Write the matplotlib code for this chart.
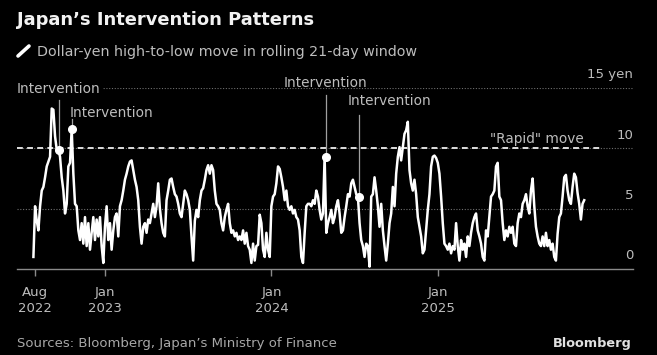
import matplotlib
matplotlib.use("Agg")
import matplotlib.pyplot as plt
from matplotlib.lines import Line2D
import pandas as pd

plt.rcParams['font.family'] = ['DejaVu Sans']
plt.rcParams['font.size'] = 10

# Dollar-yen high-to-low move in a rolling 21-day window (yen)
start_date = "2022-07-28"
end_date = "2025-11-17"
move_yen = [
    1.0, 5.2, 4.0, 3.2, 5.2, 6.5, 6.8, 7.6, 8.5, 8.9,
    9.3, 13.3, 13.2, 11.0, 9.9, 9.9, 9.3, 7.6, 6.5, 4.6,
    5.4, 8.5, 8.8, 11.6, 7.9, 5.4, 5.2, 3.2, 2.4, 3.8,
    2.1, 4.3, 1.9, 3.8, 1.6, 3.0, 4.3, 2.4, 4.1, 2.7,
    4.3, 1.9, 0.5, 3.5, 5.2, 2.4, 3.8, 1.6, 3.2, 4.3,
    4.6, 2.7, 5.2, 5.7, 6.5, 7.4, 7.9, 8.5, 8.9, 9.0,
    8.2, 7.4, 6.8, 5.7, 3.5, 2.1, 3.5, 3.8, 3.0, 4.1,
    3.8, 4.6, 5.4, 4.3, 5.2, 7.1, 5.0, 3.8, 3.0, 2.7,
    5.7, 6.5, 7.4, 7.5, 6.8, 6.2, 6.0, 5.4, 4.6, 4.3,
    5.4, 6.5, 6.2, 5.7, 4.9, 2.7, 0.7, 4.0, 4.9, 4.3,
    5.7, 6.5, 6.7, 7.4, 8.2, 8.6, 7.9, 8.6, 8.2, 6.5,
    5.4, 5.2, 4.9, 3.8, 3.2, 4.3, 4.9, 5.4, 3.8, 3.0,
    3.2, 2.7, 3.0, 2.4, 2.7, 2.4, 3.2, 2.1, 3.0, 1.9,
    1.6, 0.5, 2.1, 0.7, 1.9, 2.0, 4.5, 3.8, 1.6, 1.0,
    3.0, 1.6, 1.0, 5.2, 6.0, 6.2, 7.1, 8.5, 8.3, 7.6,
    6.8, 5.7, 6.5, 5.2, 4.9, 5.2, 4.6, 4.9, 4.3, 4.1,
    3.2, 1.0, 0.5, 3.0, 5.2, 5.4, 5.4, 5.2, 5.7, 5.4,
    6.5, 6.0, 4.9, 4.1, 4.6, 9.3, 3.0, 3.8, 4.3, 4.9,
    3.8, 4.3, 5.2, 5.7, 4.6, 3.0, 3.2, 4.3, 5.2, 6.2,
    6.0, 7.1, 7.4, 6.8, 6.2, 6.0, 3.8, 2.4, 1.9, 1.0,
    2.1, 1.9, 0.2, 6.0, 6.2, 7.6, 6.5, 5.2, 3.5, 5.4,
    3.2, 1.9, 0.7, 2.1, 3.8, 4.6, 6.8, 5.2, 7.9, 9.3,
    10.1, 9.0, 10.1, 11.2, 11.5, 12.2, 8.2, 7.1, 6.5, 7.4,
    6.2, 4.3, 3.5, 2.7, 1.3, 1.6, 3.2, 4.9, 6.2, 8.5,
    9.3, 9.4, 9.2, 8.8, 7.9, 6.0, 3.8, 2.1, 1.9, 1.6,
    2.1, 1.3, 1.9, 1.6, 3.8, 1.9, 0.7, 2.4, 1.6, 2.1,
    1.0, 2.7, 1.9, 3.0, 3.8, 4.3, 4.6, 3.2, 2.7, 2.1,
    1.0, 0.7, 3.2, 2.7, 4.3, 6.0, 6.2, 6.5, 8.5, 8.8,
    6.0, 5.7, 3.8, 2.4, 3.2, 2.7, 3.5, 3.0, 3.5, 2.1,
    1.9, 3.8, 4.6, 4.3, 5.4, 5.7, 6.2, 5.2, 4.6, 6.5,
    7.5, 5.2, 3.5, 2.7, 2.1, 1.9, 2.7, 1.9, 3.0, 1.9,
    2.4, 1.6, 2.1, 1.0, 0.7, 2.9, 4.3, 4.6, 6.0, 7.6,
    7.8, 6.5, 5.7, 5.4, 6.8, 7.9, 7.6, 6.3, 5.4, 4.1,
    5.4, 5.7,
]

# Japan's interventions and the move on those days
intervention_dates = ["2022-09-22", "2022-10-21", "2024-04-29", "2024-07-11"]
intervention_values = [9.9, 11.6, 9.3, 6.0]

rapid_move = 10
y_ticks = [0, 5, 10, 15]
y_tick_labels = ["0", "5", "10", "15 yen"]
x_ticks = ["2022-08-01", "2023-01-01", "2024-01-01", "2025-01-01"]
x_tick_labels = ["Aug\n2022", "Jan\n2023", "Jan\n2024", "Jan\n2025"]

BG = 'black'
GREY = '#bdbdbd'
GRID = '#6e6e6e'

dates = pd.date_range(start_date, end_date, periods=len(move_yen))
iv_dates = pd.to_datetime(intervention_dates)

fig = plt.figure(figsize=(6.57, 3.55), dpi=100, facecolor=BG)
ax = fig.add_axes([17 / 657, 1 - 269 / 355, 616 / 657, 181 / 355])
ax.set_facecolor(BG)

x_left = pd.Timestamp("2022-06-22")
x_right = pd.Timestamp("2026-03-04")
ax.set_xlim(x_left, x_right)
ax.set_ylim(0, 15)

# dotted gridlines and right-hand labels
for v, lab in zip(y_ticks, y_tick_labels):
    if v > 0:
        ax.axhline(v, color=GRID, linestyle=(0, (1, 1.5)), linewidth=0.8, zorder=1)
    ax.text(1.0, v + 0.55, lab, transform=ax.get_yaxis_transform(),
            ha='right', va='bottom', color=GREY, fontsize=9.5)

# "rapid" move threshold
ax.plot([x_left, pd.Timestamp("2025-12-27")], [rapid_move, rapid_move],
        color='#dddddd', linestyle=(0, (3, 2.2)), linewidth=1.4, zorder=2)
ax.text(pd.Timestamp("2025-11-17"), rapid_move + 0.45, '"Rapid" move',
        ha='right', va='baseline', color=GREY, fontsize=9.8)

# main line
ax.plot(dates, move_yen, color='white', linewidth=1.8, zorder=3,
        solid_joinstyle='round')

# intervention markers
label_pos = [
    (x_left, 14.6, 'left', 14.0, True),
    (pd.Timestamp("2022-10-16"), 12.6, 'left', 12.4, False),
    (pd.Timestamp("2024-04-29"), 15.05, 'center', 14.4, False),
    (pd.Timestamp("2024-06-17"), 13.6, 'left', 12.8, False),
]
for d, val, (lx, ly, ha, top, boxed) in zip(iv_dates, intervention_values, label_pos):
    ax.plot([d, d], [val, top], color='#a0a0a0', linewidth=0.9, zorder=2)
    ax.plot(d, val, 'o', color='white', markersize=5.5, zorder=4)
    kw = {}
    if boxed:
        kw['bbox'] = dict(facecolor=BG, edgecolor='none', pad=1.0)
    ax.text(lx, ly, 'Intervention', ha=ha, va='baseline', color=GREY,
            fontsize=9.8, zorder=5, **kw)

# axes styling
for side in ['top', 'right', 'left']:
    ax.spines[side].set_visible(False)
ax.spines['bottom'].set_color('#8a8a8a')
ax.spines['bottom'].set_linewidth(1.0)
ax.set_yticks([])
ax.set_xticks(pd.to_datetime(x_ticks))
ax.set_xticklabels(x_tick_labels, linespacing=1.35)
ax.tick_params(axis='x', colors='#8a8a8a', length=5, width=1.0, pad=7,
               labelcolor=GREY, labelsize=9.5)

# title block
fig.text(17 / 657, 1 - 25 / 355, "Japan\u2019s Intervention Patterns",
         color='#f2f2f2', fontsize=12.9, fontweight='bold', va='baseline')
fig.add_artist(Line2D([18 / 657, 29 / 657], [1 - 56 / 355, 1 - 46 / 355],
                      color='white', linewidth=2.6, solid_capstyle='round'))
fig.text(37 / 657, 1 - 56 / 355, "Dollar-yen high-to-low move in rolling 21-day window",
         color=GREY, fontsize=10.3, va='baseline')

# footer
fig.text(17 / 657, 1 - 347 / 355, "Sources: Bloomberg, Japan\u2019s Ministry of Finance",
         color='#a8a8a8', fontsize=9.5, va='baseline')
fig.text(632 / 657, 1 - 347 / 355, "Bloomberg", color='#e0e0e0',
         fontsize=9.3, fontweight='bold', ha='right', va='baseline')

fig.savefig('out.png', dpi=100, facecolor=BG)
